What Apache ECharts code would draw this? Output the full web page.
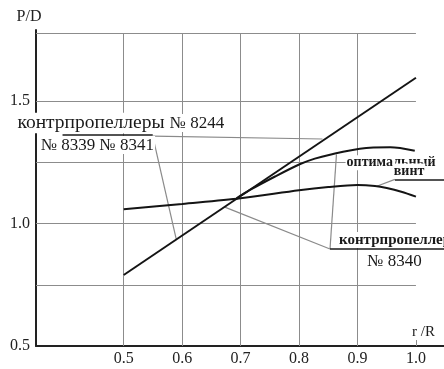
<!DOCTYPE html>
<html><head><meta charset="utf-8">
<script src="https://cdn.jsdelivr.net/npm/echarts@6/dist/echarts.min.js"></script>
<style>html,body{margin:0;padding:0;background:#fff}#c{width:444px;height:369px}</style>
</head><body><div id="c"></div>
<script>
// ---- data ----
const xTickLabels = ['0.5','0.6','0.7','0.8','0.9','1.0'];
const yTickLabels = ['0.5','1.0','1.5'];
const xGrid = [0.5, 0.6, 0.7, 0.8, 0.9, 1.0];
const yGrid = [0.75, 1.0, 1.25, 1.5, 1.775];

// straight line (контрпропеллеры)
const straightX = [0.5, 1.0];
const straightY = [0.79, 1.595];
// upper curve (контрпропеллер № 8340)
const upperX = [0.693, 0.716, 0.759, 0.802, 0.827, 0.853, 0.904, 0.956, 0.998];
const upperY = [1.103, 1.137, 1.192, 1.243, 1.265, 1.281, 1.305, 1.311, 1.297];
// lower curve (оптимальный винт)
const lowerX = [0.5, 0.6, 0.7, 0.8, 0.85, 0.9, 0.93, 0.95, 0.975, 1.0];
const lowerY = [1.058, 1.08, 1.103, 1.136, 1.149, 1.157, 1.153, 1.145, 1.13, 1.11];

// leader lines in data coordinates
const leaderGrey = [
  [[0.5497, 1.357], [0.84, 1.345]],
  [[0.5497, 1.357], [0.59, 0.935]],
  [[0.853, 0.896], [0.673, 1.067]],
  [[0.853, 0.896], [0.864, 1.282]],
  [[0.933, 1.152], [0.964, 1.18]]
];
const leaderBlack = [
  [[0.3954, 1.361], [0.5497, 1.361]],
  [[0.853, 0.896], [1.048, 0.896]],
  [[0.964, 1.18], [1.048, 1.18]]
];
// annotation texts
const notes = [
  {t: 'контрпропеллеры', x: 0.4441, y: 1.41, size: 19.5, bold: false, pos: 'inside'},
  {t: '№ 8244', x: 0.6255, y: 1.41, size: 17, bold: false, pos: 'inside'},
  {t: '№ 8339 № 8341', x: 0.4552, y: 1.3204, size: 17, bold: false, pos: 'inside'},
  {t: 'оптимальный', x: 0.9574, y: 1.248, size: 14, bold: true, pos: 'inside'},
  {t: 'винт', x: 0.9882, y: 1.2143, size: 14, bold: true, pos: 'inside'},
  {t: 'контрпропеллеры', x: 0.8667, y: 0.9327, size: 15, bold: true, pos: 'right'},
  {t: '№ 8340', x: 0.9633, y: 0.8429, size: 17, bold: false, pos: 'inside'},
  {t: 'r /R', x: 1.013, y: 0.557, size: 15, bold: false, pos: 'inside'}
];

const FONT = 'Liberation Serif';
const zip = (xs, ys) => xs.map((x, i) => [x, ys[i]]);
const seg = (a, b) => [{coord: a}, {coord: b}];

const gridSegs = [];
xGrid.forEach(x => gridSegs.push(seg([x, 0.5], [x, x === 1.0 ? 0.573 : 1.775])));
yGrid.forEach(y => gridSegs.push(seg([0.35, y], [1.0, y])));

const chart = echarts.init(document.getElementById('c'), null, {renderer: 'canvas'});
chart.setOption({
  animation: false,
  backgroundColor: '#fff',
  grid: {left: 36, right: 0, top: 30, bottom: 23, containLabel: false},
  xAxis: {
    type: 'value', min: 0.35, max: 1.048, interval: 0.05,
    axisLine: {show: true, lineStyle: {color: '#222', width: 2}},
    axisTick: {show: false}, splitLine: {show: false},
    axisLabel: {
      margin: 5, fontSize: 16, fontFamily: FONT, color: '#222',
      showMinLabel: false, showMaxLabel: false,
      formatter: v => {
        const s = v.toFixed(1);
        return (Math.abs(v * 10 - Math.round(v * 10)) < 1e-6 && xTickLabels.includes(s)) ? s : '';
      }
    }
  },
  yAxis: {
    type: 'value', min: 0.5, max: 1.79, interval: 0.25,
    name: 'P/D', nameLocation: 'end', nameGap: 5,
    nameTextStyle: {fontSize: 16, fontFamily: FONT, color: '#222', align: 'center', padding: [0, 14, 0, 0]},
    axisLine: {show: true, lineStyle: {color: '#222', width: 2}},
    axisTick: {show: false}, splitLine: {show: false},
    axisLabel: {
      margin: 6, fontSize: 16, fontFamily: FONT, color: '#222',
      showMaxLabel: false,
      formatter: v => {
        const s = v.toFixed(1);
        return (Math.abs(v * 2 - Math.round(v * 2)) < 1e-6 && yTickLabels.includes(s)) ? s : '';
      }
    }
  },
  series: [
    {
      type: 'line', data: [], z: 1, silent: true,
      markLine: {
        silent: true, symbol: ['none', 'none'], animation: false,
        label: {show: false},
        lineStyle: {color: '#8c8c8c', width: 1, type: 'solid'},
        data: gridSegs
      }
    },
    {
      type: 'line', data: [], z: 3, silent: true,
      markLine: {
        silent: true, symbol: ['none', 'none'], animation: false,
        label: {show: false},
        lineStyle: {color: '#8a8a8a', width: 1.2, type: 'solid'},
        data: leaderGrey.map(p => seg(p[0], p[1]))
      }
    },
    {
      type: 'line', data: [], z: 4, silent: true,
      markLine: {
        silent: true, symbol: ['none', 'none'], animation: false,
        label: {show: false},
        lineStyle: {color: '#1a1a1a', width: 1.5, type: 'solid'},
        data: leaderBlack.map(p => seg(p[0], p[1]))
      }
    },
    {type: 'line', data: zip(straightX, straightY), z: 5, symbol: 'none',
      lineStyle: {color: '#141414', width: 2}},
    {type: 'line', data: zip(upperX, upperY), z: 5, symbol: 'none', smooth: 0.3,
      lineStyle: {color: '#141414', width: 2}},
    {type: 'line', data: zip(lowerX, lowerY), z: 5, symbol: 'none', smooth: 0.3,
      lineStyle: {color: '#141414', width: 2}},
    {
      type: 'line', data: [], z: 10, silent: true,
      markPoint: {
        silent: true, animation: false,
        data: notes.map(n => ({
          coord: [n.x, n.y], symbol: 'circle', symbolSize: 0,
          label: {
            show: true, formatter: n.t, position: n.pos, distance: 0,
            fontSize: n.size, fontFamily: FONT, fontWeight: n.bold ? 'bold' : 'normal',
            color: '#1a1a1a', backgroundColor: '#fff', padding: [0, 1], lineHeight: n.size + 1
          }
        }))
      }
    }
  ]
});
</script></body></html>
